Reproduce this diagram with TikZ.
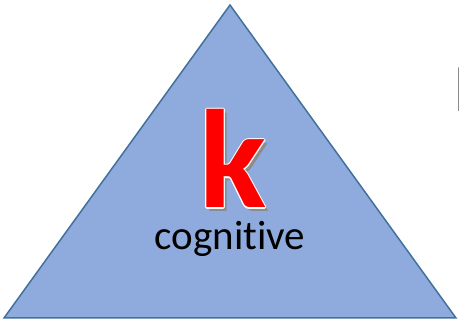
\documentclass[tikz,border=0pt]{standalone}
\usepackage{fontspec}
\setmainfont[Ligatures=NoCommon]{Carlito}
\definecolor{trifill}{HTML}{8FAADC}
\definecolor{triline}{HTML}{41719C}
\definecolor{kred}{HTML}{FF0000}
\tikzset{
  tri/.style={fill=trifill,draw=triline,line width=1.5pt,line join=miter},
  ktext/.style={inner sep=0pt,anchor=base,font=\fontsize{140}{140}\selectfont\bfseries},
  lbl/.style={inner sep=0pt,anchor=base,font=\fontsize{41}{41}\selectfont}
}
\begin{document}
\begin{tikzpicture}[x=1pt,y=-1pt]
\useasboundingbox (0,0) rectangle (459,321);
\coordinate (apex) at (230,5);
\coordinate (bl) at (4,318);
\coordinate (br) at (456,318);
\draw[tri] (apex) -- (br) -- (bl) -- cycle;
% k shadow
\node[ktext,text=black!45] (kshadow) at (236.5,211.5) {k};
% white outline
\foreach \dx/\dy in {-1.3/0,1.3/0,0/-1.3,0/1.3,-0.9/-0.9,0.9/0.9,-0.9/0.9,0.9/-0.9}
  \node[ktext,text=white] at (233+\dx,208+\dy) {k};
\node[ktext,text=kred] (k) at (233,208) {k};
\node[lbl] (cog) at (230,250) {cognitive};
\node[inner sep=0pt,anchor=base west,font=\fontsize{68}{68}\selectfont] (cut) at (453,112) {I};
\end{tikzpicture}
\end{document}
